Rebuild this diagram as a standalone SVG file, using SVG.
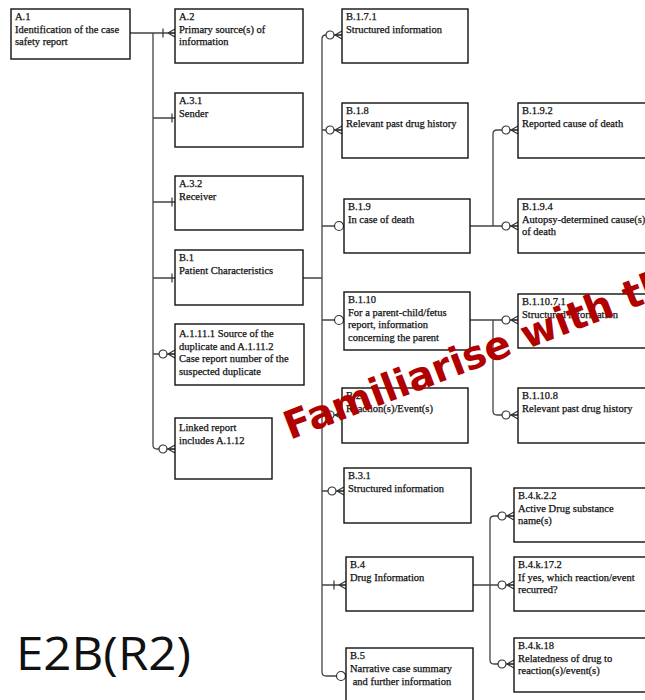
<svg xmlns="http://www.w3.org/2000/svg" xmlns:xlink="http://www.w3.org/1999/xlink" width="645" height="700" viewBox="0 0 645 700">
  <style>
    .box { fill: #ffffff; stroke: #111111; stroke-width: 1.4; }
    .lbl { font-family: "Liberation Serif", "Times New Roman", serif; font-size: 10.5px; fill: #111111; stroke: #111111; stroke-width: 0.25; }
    .wire { fill: none; stroke: #444444; stroke-width: 1.3; }
    .mk { fill: #ffffff; stroke: #333333; stroke-width: 1.2; }
    .title { font-family: "Open Sans", "Noto Sans", sans-serif; font-size: 46px; fill: #111111; }
    .stamp { font-family: "DejaVu Sans", "Verdana", sans-serif; font-weight: bold; font-size: 39px; fill: #b00000; }
  </style>
  <defs>
    <!-- cardinality ends, drawn relative to the point where the line meets the box -->
    <g id="zeroMany" class="mk">
      <path d="M-7,0 L0,-4 M-7,0 L0,0 M-7,0 L0,4"/>
      <circle cx="-12" cy="0" r="4"/>
    </g>
    <g id="zeroOne" class="mk">
      <circle cx="-5" cy="0" r="4.5"/>
    </g>
    <g id="oneOnly" class="mk">
      <path d="M-3,-4.5 V4.5"/>
    </g>
    <g id="oneMany" class="mk">
      <path d="M-7,0 L0,-4 M-7,0 L0,0 M-7,0 L0,4 M-12,-4.5 V4.5"/>
    </g>
  </defs>

  <rect width="645" height="700" fill="#ffffff"/>

  <!-- connectors -->
  <g id="connectors">
    <path class="wire" d="M130,33 H175 M153,33 V445 Q153,449 157,449 H175 M153,118 H175 M153,202 H175 M153,278 H175 M153,354 H175"/>
    <path class="wire" d="M303,278 H322 M342,35 H326 Q322,35 322,39 V672 Q322,676 326,676 H346 M322,130 H342 M322,226 H344 M322,320 H344 M322,415 H342 M322,491 H344 M322,585 H346"/>
    <path class="wire" d="M470,226 H518 M493,226 V134 Q493,130 497,130 H518"/>
    <path class="wire" d="M470,320 H518 M493,320 V411 Q493,415 497,415 H518"/>
    <path class="wire" d="M473,585 H514 M514,516 H494 Q490,516 490,520 V660 Q490,664 494,664 H514"/>

    <use xlink:href="#oneMany" x="175" y="33"/>
    <use xlink:href="#oneOnly" x="175" y="118"/>
    <use xlink:href="#oneOnly" x="175" y="202"/>
    <use xlink:href="#oneOnly" x="175" y="278"/>
    <use xlink:href="#zeroMany" x="175" y="354"/>
    <use xlink:href="#zeroMany" x="175" y="449"/>

    <use xlink:href="#zeroMany" x="342" y="35"/>
    <use xlink:href="#zeroMany" x="342" y="130"/>
    <use xlink:href="#zeroOne" x="344" y="226"/>
    <use xlink:href="#zeroOne" x="344" y="320"/>
    <use xlink:href="#zeroMany" x="342" y="415"/>
    <use xlink:href="#zeroMany" x="344" y="491"/>
    <use xlink:href="#oneMany" x="346" y="585"/>
    <use xlink:href="#zeroOne" x="346" y="676"/>

    <use xlink:href="#zeroMany" x="518" y="130"/>
    <use xlink:href="#zeroMany" x="518" y="226"/>
    <use xlink:href="#zeroMany" x="518" y="320"/>
    <use xlink:href="#zeroMany" x="518" y="415"/>
    <use xlink:href="#zeroMany" x="514" y="516"/>
    <use xlink:href="#zeroMany" x="514" y="585"/>
    <use xlink:href="#zeroMany" x="514" y="664"/>
  </g>

  <!-- section A -->
  <g id="A1">
    <rect class="box" x="11" y="9" width="119" height="50"/>
    <text class="lbl" x="15" y="20">A.1<tspan x="15" dy="12.7">Identification of the case</tspan><tspan x="15" dy="12.7">safety report</tspan></text>
  </g>
  <g id="A2">
    <rect class="box" x="175" y="9" width="128" height="54"/>
    <text class="lbl" x="179" y="20">A.2<tspan x="179" dy="12.7">Primary source(s) of</tspan><tspan x="179" dy="12.7">information</tspan></text>
  </g>
  <g id="A3-1">
    <rect class="box" x="175" y="93" width="128" height="54"/>
    <text class="lbl" x="179" y="104">A.3.1<tspan x="179" dy="12.7">Sender</tspan></text>
  </g>
  <g id="A3-2">
    <rect class="box" x="175" y="176" width="128" height="54"/>
    <text class="lbl" x="179" y="187">A.3.2<tspan x="179" dy="12.7">Receiver</tspan></text>
  </g>
  <g id="B1">
    <rect class="box" x="175" y="250" width="128" height="55"/>
    <text class="lbl" x="179" y="261">B.1<tspan x="179" dy="12.7">Patient Characteristics</tspan></text>
  </g>
  <g id="A1-11">
    <rect class="box" x="175" y="324" width="129" height="61"/>
    <text class="lbl" x="179" y="337">A.1.11.1 Source of the<tspan x="179" dy="12.5">duplicate and A.1.11.2</tspan><tspan x="179" dy="12.5">Case report number of the</tspan><tspan x="179" dy="12.5">suspected duplicate</tspan></text>
  </g>
  <g id="A1-12">
    <rect class="box" x="175" y="418" width="97" height="61"/>
    <text class="lbl" x="179" y="431">Linked report<tspan x="179" dy="12.7">includes A.1.12</tspan></text>
  </g>

  <!-- section B, patient branch -->
  <g id="B1-7-1">
    <rect class="box" x="342" y="9" width="126" height="54"/>
    <text class="lbl" x="346" y="20">B.1.7.1<tspan x="346" dy="12.7">Structured information</tspan></text>
  </g>
  <g id="B1-8">
    <rect class="box" x="342" y="103" width="126" height="55"/>
    <text class="lbl" x="346" y="114">B.1.8<tspan x="346" dy="12.7">Relevant past drug history</tspan></text>
  </g>
  <g id="B1-9">
    <rect class="box" x="344" y="199" width="126" height="54"/>
    <text class="lbl" x="348" y="210">B.1.9<tspan x="348" dy="12.7">In case of death</tspan></text>
  </g>
  <g id="B1-10">
    <rect class="box" x="344" y="292" width="126" height="58"/>
    <text class="lbl" x="348" y="303">B.1.10<tspan x="348" dy="12.7">For a parent-child/fetus</tspan><tspan x="348" dy="12.7">report, information</tspan><tspan x="348" dy="12.7">concerning the parent</tspan></text>
  </g>
  <g id="B2">
    <rect class="box" x="342" y="388" width="126" height="55"/>
    <text class="lbl" x="346" y="399">B.2<tspan x="346" dy="12.7">Reaction(s)/Event(s)</tspan></text>
  </g>
  <g id="B3-1">
    <rect class="box" x="344" y="468" width="127" height="55"/>
    <text class="lbl" x="348" y="479">B.3.1<tspan x="348" dy="12.7">Structured information</tspan></text>
  </g>
  <g id="B4">
    <rect class="box" x="346" y="557" width="127" height="54"/>
    <text class="lbl" x="350" y="568">B.4<tspan x="350" dy="12.7">Drug Information</tspan></text>
  </g>
  <g id="B5">
    <rect class="box" x="346" y="648" width="127" height="60"/>
    <text class="lbl" x="350" y="659">B.5<tspan x="350" dy="13">Narrative case summary</tspan><tspan x="350" dy="13"> and further information</tspan></text>
  </g>

  <!-- third level -->
  <g id="B1-9-2">
    <rect class="box" x="518" y="103" width="140" height="55"/>
    <text class="lbl" x="522" y="114">B.1.9.2<tspan x="522" dy="12.7">Reported cause of death</tspan></text>
  </g>
  <g id="B1-9-4">
    <rect class="box" x="518" y="199" width="140" height="54"/>
    <text class="lbl" x="522" y="210">B.1.9.4<tspan x="522" dy="12.7">Autopsy-determined cause(s)</tspan><tspan x="522" dy="12.7">of death</tspan></text>
  </g>
  <g id="B1-10-7-1">
    <rect class="box" x="518" y="294" width="140" height="54"/>
    <text class="lbl" x="522" y="305">B.1.10.7.1<tspan x="522" dy="12.7">Structured information</tspan></text>
  </g>
  <g id="B1-10-8">
    <rect class="box" x="518" y="388" width="140" height="55"/>
    <text class="lbl" x="522" y="399">B.1.10.8<tspan x="522" dy="12.7">Relevant past drug history</tspan></text>
  </g>
  <g id="B4-k-2-2">
    <rect class="box" x="514" y="488" width="140" height="54"/>
    <text class="lbl" x="518" y="499">B.4.k.2.2<tspan x="518" dy="12.7">Active Drug substance</tspan><tspan x="518" dy="12.7">name(s)</tspan></text>
  </g>
  <g id="B4-k-17-2">
    <rect class="box" x="514" y="557" width="140" height="54"/>
    <text class="lbl" x="518" y="568">B.4.k.17.2<tspan x="518" dy="12.7">If yes, which reaction/event</tspan><tspan x="518" dy="12.7">recurred?</tspan></text>
  </g>
  <g id="B4-k-18">
    <rect class="box" x="514" y="638" width="140" height="54"/>
    <text class="lbl" x="518" y="649">B.4.k.18<tspan x="518" dy="12.7">Relatedness of drug to</tspan><tspan x="518" dy="12.7">reaction(s)/event(s)</tspan></text>
  </g>

  <!-- caption and overprint -->
  <text class="title" x="16" y="670" textLength="175" lengthAdjust="spacingAndGlyphs">E2B(R2)</text>
  <text class="stamp" x="290" y="440" transform="rotate(-21 290 440)">Familiarise with th</text>
</svg>
